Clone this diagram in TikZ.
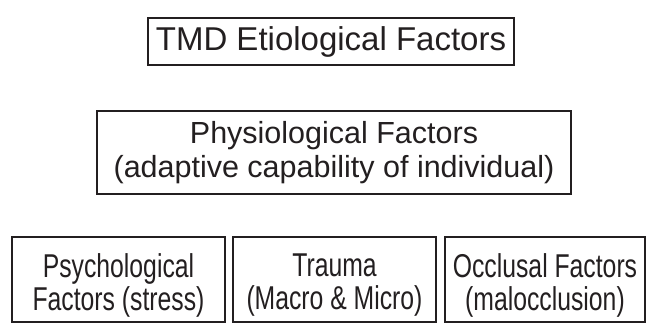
\documentclass[tikz,border=0pt]{standalone}
\usepackage{fontspec}
\setmainfont{Liberation Sans}
\newfontfamily\narrowfont{Liberation Sans}[FakeStretch=0.75]
\definecolor{ink}{HTML}{231F20}
\begin{document}
\begin{tikzpicture}[x=1pt,y=-1pt,
  box/.style={draw=ink,line width=2.2pt,inner sep=0pt},
  words/.style={text=ink,align=center,inner sep=0pt},
  titlebox/.style={box,words,font=\fontsize{33}{36}\selectfont},
  midbox/.style={box,words,font=\fontsize{30.5}{34}\selectfont},
  factortext/.style={words,font=\narrowfont\fontsize{33}{33}\selectfont}]
\useasboundingbox[fill=white] (0,0) rectangle (655,330);
% heading
\node[titlebox,minimum width=366pt,minimum height=47pt] (title) at (331,41.5) {TMD Etiological Factors};
% physiological layer
\node[midbox,minimum width=474pt,minimum height=83pt] (physio) at (334,152.5)
  {Physiological Factors\\(adaptive capability of individual)};
% contributing factors: frames, then their two-line captions
\node[box,minimum width=213pt,minimum height=85pt] (psych) at (118.5,279.5) {};
\node[box,minimum width=203pt,minimum height=85pt] (trauma) at (334.5,279.5) {};
\node[box,minimum width=200pt,minimum height=85pt] (occl) at (545,279.5) {};
\node[factortext] (psychtext) at ([yshift=-6pt]psych.center) {Psychological\\Factors (stress)};
\node[factortext] (traumatext) at ([yshift=-6pt]trauma.center) {Trauma\\(Macro \& Micro)};
\node[factortext] (occltext) at ([yshift=-6pt]occl.center) {Occlusal Factors\\(malocclusion)};
\end{tikzpicture}
\end{document}
